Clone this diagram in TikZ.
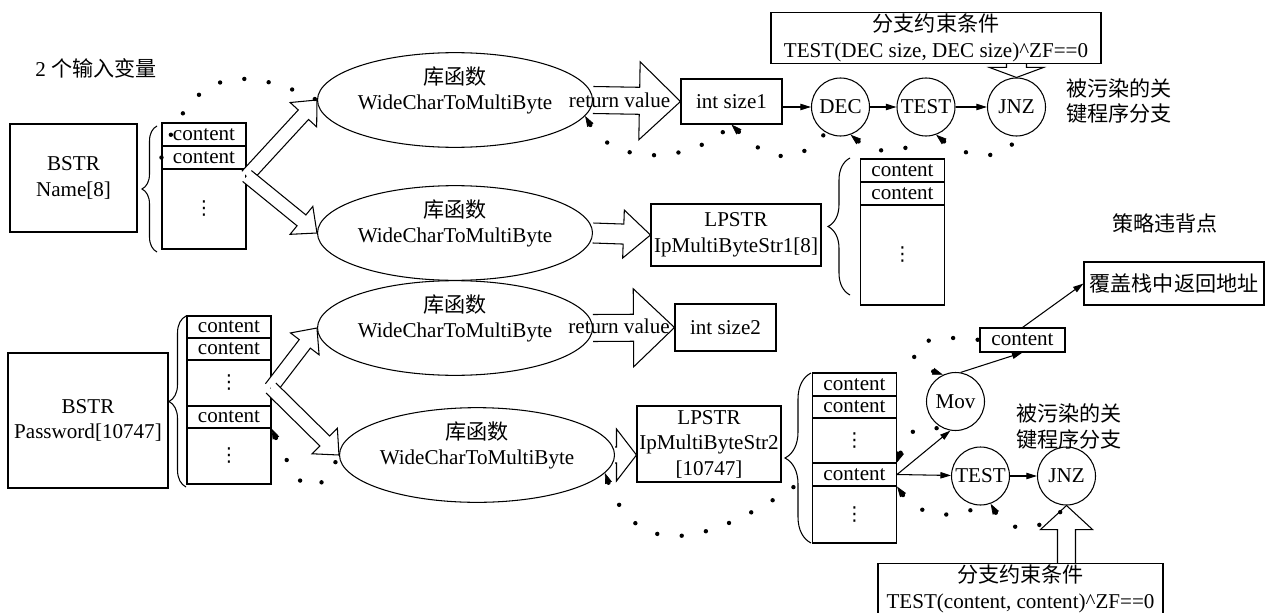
\documentclass[tikz,border=0pt,12pt]{standalone}
\usepackage{fontspec}
\setmainfont{Liberation Serif}
\newfontfamily\cjk{Noto Sans CJK SC}
\newfontfamily\symf{DejaVu Sans}
\usetikzlibrary{shapes.geometric,arrows.meta,calc,decorations.pathreplacing}

\tikzset{
  box/.style={draw, align=center, inner sep=1pt},
  cell/.style={draw, minimum width=1.68cm, inner sep=0pt},
  func/.style={ellipse, draw, align=center, minimum width=4.32cm, minimum height=1.8cm, inner sep=0pt},
  op/.style={circle, draw, minimum size=1.16cm, inner sep=0pt},
  lbl/.style={align=center, font=\cjk},
  flow/.style={-{Triangle[length=6pt,width=3.6pt]}},
  taint/.style={line width=2.5pt, line cap=round, dash pattern=on 0pt off 14pt},
  back/.style={{Triangle[length=6pt,width=4pt,line width=0.4pt]}-},
  brc/.style={decorate, decoration={brace, amplitude=#1}},
}

\newcommand{\stackdots}{{\symf\small ⋮}}
\newcommand{\libfn}{{\cjk 库函数}\\WideCharToMultiByte\\[-1pt]\mbox{}}
% hollow block arrow: from, to, half shaft, half head, head length
\newcommand{\hollowarrow}[5]{%
  \coordinate (hb) at ($(#2)!#5!(#1)$);
  \draw[fill=white] ($(#1)!#3!90:(#2)$) -- ($(hb)!#3!-90:(#1)$) -- ($(hb)!#4!-90:(#1)$)
    -- (#2) -- ($(hb)!#4!90:(#1)$) -- ($(hb)!#3!90:(#1)$) -- ($(#1)!#3!-90:(#2)$);
}

\begin{document}
\begin{tikzpicture}[line width=0.6pt]
	\useasboundingbox (0,0) rectangle (25.38,-12.24);
	\node (inputs) at (1.92,-1.36) {2 {\cjk 个输入变量}};
	\node[box, minimum width=2.54cm, minimum height=2.16cm] (name) at (1.47,-3.56) {BSTR\\Name[8]};
	\node[box, minimum width=3.2cm, minimum height=2.7cm] (pwd) at (1.76,-8.41) {BSTR\\Password[10747]};
	% input stacks
	\node[cell, minimum height=0.46cm] (s1a) at (4.08,-2.69) {content};
	\node[cell, minimum height=0.46cm] (s1b) at (4.08,-3.15) {content};
	\node[cell, minimum height=1.60cm] (s1c) at (4.08,-4.18) {\stackdots};
	\node[cell, minimum height=0.44cm] (s3a) at (4.58,-6.54) {content};
	\node[cell, minimum height=0.44cm] (s3b) at (4.58,-6.98) {content};
	\node[cell, minimum height=0.92cm] (s3c) at (4.58,-7.66) {\stackdots};
	\node[cell, minimum height=0.44cm] (s3d) at (4.58,-8.34) {content};
	\node[cell, minimum height=1.12cm] (s3e) at (4.58,-9.12) {\stackdots};
	\coordinate (s1out) at (4.94,-3.52);
	\coordinate (s3out) at (5.42,-7.76);
	% library calls
	\node[func] (e1) at (9.10,-2.00) {\libfn};
	\node[func] (e2) at (9.10,-4.66) {\libfn};
	\node[func] (e3) at (9.10,-6.56) {\libfn};
	\node[func] (e4) at (9.54,-9.10) {\libfn};
	\node[box, minimum width=2.02cm, minimum height=0.9cm] (size1) at (14.63,-2.03) {int size1};
	\node[box, minimum width=2.02cm, minimum height=0.94cm] (size2) at (14.51,-6.55) {int size2};
	\node[box, minimum width=3.4cm, minimum height=1.24cm] (lp1) at (14.72,-4.70) {LPSTR\\IpMultiByteStr1[8]};
	\node[box, minimum width=2.88cm, minimum height=1.52cm] (lp2) at (14.18,-8.88) {LPSTR\\IpMultiByteStr2\\{[10747]}};
	% output stacks
	\node[cell, minimum height=0.46cm] (s2a) at (18.05,-3.41) {content};
	\node[cell, minimum height=0.46cm] (s2b) at (18.05,-3.87) {content};
	\node[cell, minimum height=2.0cm] (s2c) at (18.05,-5.10) {\stackdots};
	\node[cell, minimum height=0.46cm] (s4a) at (17.09,-7.69) {content};
	\node[cell, minimum height=0.44cm] (s4b) at (17.09,-8.14) {content};
	\node[cell, minimum height=0.90cm] (s4c) at (17.09,-8.81) {\stackdots};
	\node[cell, minimum height=0.46cm] (s4d) at (17.09,-9.49) {content};
	\node[cell, minimum height=1.14cm] (s4e) at (17.09,-10.29) {\stackdots};
	% branches
	\node[op] (dec) at (16.81,-2.14) {DEC};
	\node[op] (tst1) at (18.52,-2.14) {TEST};
	\node[op] (jnz1) at (20.33,-2.14) {JNZ};
	\node[box, minimum width=6.6cm, minimum height=1.0cm] (cond1) at (18.72,-0.76) {{\cjk 分支约束条件}\\TEST(DEC size, DEC size)\textasciicircum ZF==0};
	\node[lbl] (taint1) at (22.38,-2.02) {被污染的关\\键程序分支};
	\node[lbl] (strategy) at (23.30,-4.46) {策略违背点};
	\node[box, font=\cjk, minimum width=3.6cm, minimum height=0.86cm] (over) at (23.48,-5.67) {覆盖栈中返回地址};
	\node[op] (mov) at (19.11,-8.03) {Mov};
	\node[box, minimum width=1.70cm, minimum height=0.48cm] (cbox) at (20.45,-6.80) {content};
	\node[op] (tst2) at (19.61,-9.52) {TEST};
	\node[op] (jnz2) at (21.33,-9.52) {JNZ};
	\node[lbl] (taint2) at (21.38,-8.53) {被污染的关\\键程序分支};
	\node[box, minimum width=5.7cm, minimum height=1.0cm] (cond2) at (20.41,-11.78) {{\cjk 分支约束条件}\\TEST(content, content)\textasciicircum ZF==0};
	\coordinate (c1foot) at (jnz1.north |- cond1.south);
	\coordinate (c2foot) at (jnz2.south |- cond2.north);
	\coordinate (lp2in) at (lp2.west |- e4.east);
	% block arrows
	\hollowarrow{s1out}{e1.west}{0.14cm}{0.36cm}{0.40cm}
	\hollowarrow{s1out}{e2.west}{0.14cm}{0.36cm}{0.40cm}
	\hollowarrow{s3out}{e3.west}{0.14cm}{0.36cm}{0.40cm}
	\hollowarrow{s3out}{e4.west}{0.14cm}{0.36cm}{0.40cm}
	\hollowarrow{e1.east}{size1.west}{0.27cm}{0.78cm}{0.82cm}
	\hollowarrow{e3.east}{size2.west}{0.27cm}{0.78cm}{0.82cm}
	\hollowarrow{e2.east}{lp1.west}{0.20cm}{0.48cm}{0.54cm}
	\hollowarrow{e4.east}{lp2in}{0.16cm}{0.52cm}{0.40cm}
	\hollowarrow{c1foot}{jnz1.north}{0.20cm}{0.54cm}{0.20cm}
	\hollowarrow{c2foot}{jnz2.south}{0.18cm}{0.52cm}{0.48cm}
	\node (rv1) at (12.39,-2.00) {return value};
	\node (rv2) at (12.38,-6.52) {return value};
	% braces
	\draw[brc=0.30cm] (3.14,-5.04) -- (3.14,-2.52);
	\draw[brc=0.44cm] (17.00,-5.90) -- (17.00,-3.16);
	\draw[brc=0.34cm] (3.72,-9.74) -- (3.72,-6.32);
	\draw[brc=0.52cm] (16.22,-10.86) -- (16.22,-7.46);
	% control flow
	\draw[flow] (size1.east |- dec) -- (dec);
	\draw[flow] (dec) -- (tst1);
	\draw[flow] (tst1) -- (jnz1);
	\draw[flow] (s4d.east) -- (mov.-100);
	\draw[flow] (s4d.east) -- (tst2);
	\draw[flow] (tst2) -- (jnz2);
	\draw[flow] (mov.80) -- (cbox.south);
	\draw[flow] (cbox.north) -- (over.west);
	% taint paths
	\draw[taint] (s1b.west) to[out=70, in=155, looseness=1.4] (e1.west);
	\draw[taint, back] (e1.-7) to[out=-60, in=-135] (size1.south);
	\draw[taint, back] (size1.south) to[out=-45, in=-130, looseness=1.3] (dec.-120);
	\draw[taint, back] (dec.-70) to[out=-40, in=-140] (tst1.south);
	\draw[taint, back] (tst1.-70) to[out=-40, in=-110] (jnz1.south);
	\draw[taint, back] (s3d.south east) to[out=-65, in=-115, looseness=2.2] (e4.west);
	\draw[taint, back] (e4.-8) to[out=-70, in=-145, looseness=1.3] (s4d.west);
	\draw[taint, back] (s4d.north east) to[out=70, in=170, looseness=1.5] (mov.south);
	\draw[taint, back] (s4d.south east) to[out=-55, in=-150] (tst2.south);
	\draw[taint, back] (tst2.-70) to[out=-60, in=-130, looseness=1.2] (jnz2.south);
	\draw[taint, back] (mov.115) .. controls (18.00,-7.20) and (18.10,-6.60) .. (cbox.west);
\end{tikzpicture}
\end{document}
